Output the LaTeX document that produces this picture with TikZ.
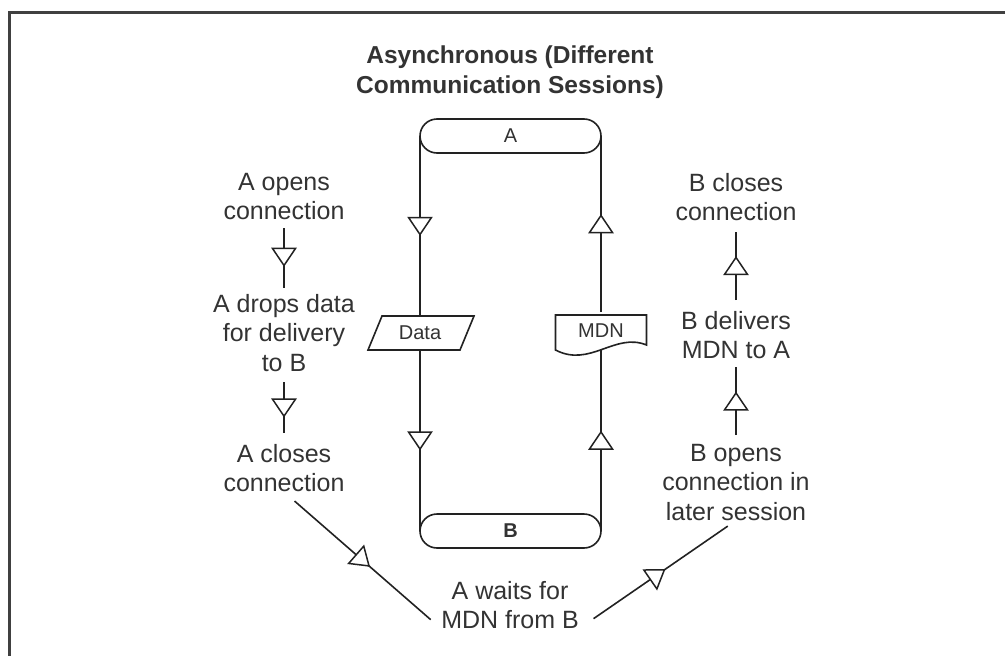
\documentclass[tikz,border=0pt]{standalone}
\usepackage{fontspec}
\setmainfont{Liberation Sans}
\usetikzlibrary{shapes.misc,decorations.markings,backgrounds}
\definecolor{linec}{RGB}{34,34,34}
\definecolor{textc}{RGB}{51,51,51}
\definecolor{framec}{RGB}{64,64,64}
\begin{document}
\begin{tikzpicture}[x=1pt,y=-1pt,
  txt/.style={text=textc, font=\fontsize{25}{29.5}\selectfont, align=center, inner sep=0pt, outer sep=0pt, anchor=north},
  small/.style={text=textc, font=\fontsize{20}{24}\selectfont, inner sep=0pt, outer sep=0pt},
  term/.style={rounded rectangle, draw=linec, line width=1.6pt, fill=white, minimum width=181pt, minimum height=34pt, small},
  ln/.style={draw=linec, line width=1.6pt},
  shp/.style={draw=linec, line width=1.6pt, fill=white, line join=miter},
  tri/.style={postaction={decorate}, decoration={markings, mark=at position #1 with {\draw[linec, line width=1.5pt, fill=white, line join=miter] (8.5pt,0pt) -- (-8.5pt,11.5pt) -- (-8.5pt,-11.5pt) -- cycle;}}},
  tri/.default=0.5
]
\useasboundingbox (0,0) rectangle (1005,656);
\draw[framec, line width=3pt] (1005,12) -- (9,12) -- (9,656);

\node[txt, font=\bfseries\fontsize{24.5}{30}\selectfont] (title) at (510,46) {Asynchronous (Different\\Communication Sessions)};

\node[term] (A) at (510.5,136) {A};
\node[term, font=\bfseries\fontsize{20}{24}\selectfont] (B) at (510.5,531) {B};
\node[small, minimum width=92pt, minimum height=34pt] (Data) at (420,333) {Data};
\node[small, minimum width=91pt, minimum height=38pt] (MDN) at (601,331) {MDN};

\node[txt] (aopen) at (284,173) {A opens\\connection};
\node[txt] (adrop) at (284,294) {A drops data\\for delivery\\to B};
\node[txt] (aclose) at (284,444) {A closes\\connection};
\node[txt] (bclose) at (736,173) {B closes\\connection};
\node[txt] (bdeliv) at (736,311) {B delivers\\MDN to A};
\node[txt] (bopen) at (736,444) {B opens\\connection in\\later session};
\node[txt] (await) at (510,581) {A waits for\\MDN from B};

\begin{pgfonlayer}{background}
\draw[ln, tri] (A.west) -- (Data.north);
\draw[ln, tri] (Data.south) -- (B.west);
\draw[ln, tri] (B.east) -- (MDN.south);
\draw[ln, tri] (MDN.north) -- (A.east);

\draw[ln, tri, shorten <=8.5pt, shorten >=6pt] (aopen.south) -- (adrop.north);
\draw[ln, tri, shorten <=11pt, shorten >=11pt] (adrop.south) -- (aclose.north);
\draw[ln, tri, shorten <=9pt, shorten >=8.5pt] (bopen.north) -- (bdeliv.south);
\draw[ln, tri, shorten <=11pt, shorten >=11.5pt] (bdeliv.north) -- (bclose.south);
\draw[ln, tri, shorten <=14pt, shorten >=14pt] (aclose.south) -- (await.south west);
\draw[ln, tri, shorten <=18pt, shorten >=10pt] (await.south east) -- (bopen.south);

\draw[shp] (368,350) -- (382,316) -- (474,316) -- (460,350) -- cycle;
\draw[shp] (555.5,315) -- (646.5,315) -- (646.5,345) .. controls (615,332) and (590,368) .. (555.5,350) -- cycle;
\end{pgfonlayer}
\end{tikzpicture}
\end{document}
